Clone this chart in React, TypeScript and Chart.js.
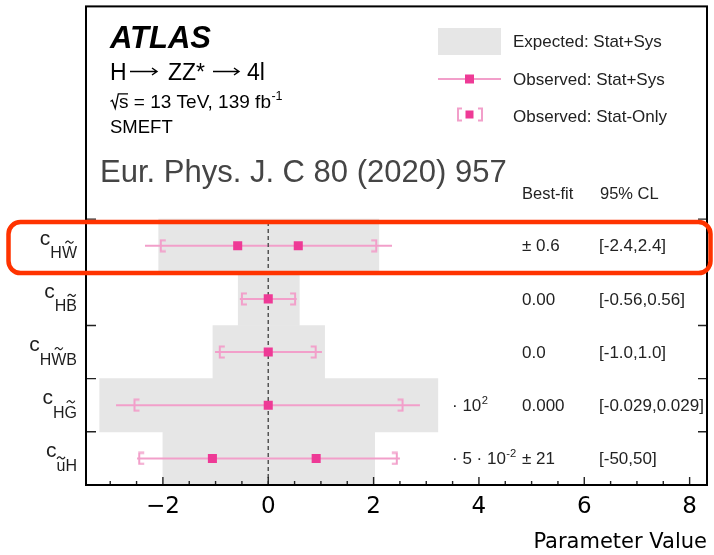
import React, { useEffect, useRef } from 'react';
import { Chart, registerables } from 'chart.js';

Chart.register(...registerables);

const FONT = '"Liberation Sans", Arial, Helvetica, sans-serif';
const AXIS_FONT = '"DejaVu Sans", sans-serif';

// ---- data ----
const rowNames = ['HW', 'HB', 'HWB', 'HG', 'uH'];
const tildeIndex = [1, 1, 1, 1, 0];
const rowCenters = [4.5, 3.5, 2.5, 1.5, 0.5];
const rowBoundaries = [1, 2, 3, 4, 5];
const expectedLow = [-2.08, -0.57, -1.05, -3.2, -2.0];
const expectedHigh = [2.1, 0.59, 1.07, 3.22, 2.02];
const statSysLow = [-2.34, -0.54, -1.01, -2.89, -2.49];
const statSysHigh = [2.35, 0.54, 1.02, 2.88, 2.5];
const statOnlyLow = [-2.04, -0.5, -0.92, -2.54, -2.45];
const statOnlyHigh = [2.05, 0.51, 0.9, 2.55, 2.44];
const bestFitPoints = [[-0.58, 0.57], [0], [0], [0], [-1.06, 0.91]];
const bestFitText = ['± 0.6', '0.00', '0.0', '0.000', '± 21'];
const scaleFactorText: [string, boolean][][] = [
  [],
  [],
  [],
  [['· 10', false], ['2', true]],
  [['· 5 · 10', false], ['-2', true]],
];
const clText = ['[-2.4,2.4]', '[-0.56,0.56]', '[-1.0,1.0]', '[-0.029,0.029]', '[-50,50]'];
const xTicks = [-2, 0, 2, 4, 6, 8];
const xMin = -3.46;
const xMax = 8.33;
const yMin = 0;
const yMax = 9;

const BAND = '#e6e6e6';
const LINE = '#f29fca';
const POINT = '#ee3a96';
const TEXT = '#1e1e1e';

function makeBracket(side: 'left' | 'right') {
  const c = document.createElement('canvas');
  c.width = 14;
  c.height = 14;
  const g = c.getContext('2d')!;
  g.strokeStyle = LINE;
  g.lineWidth = 2;
  g.beginPath();
  if (side === 'left') {
    g.moveTo(12, 1.5);
    g.lineTo(7, 1.5);
    g.lineTo(7, 12.5);
    g.lineTo(12, 12.5);
  } else {
    g.moveTo(2, 1.5);
    g.lineTo(7, 1.5);
    g.lineTo(7, 12.5);
    g.lineTo(2, 12.5);
  }
  g.stroke();
  return c;
}

function drawRich(ctx: CanvasRenderingContext2D, x: number, y: number, segs: [string, boolean][], size: number) {
  let cx = x;
  for (const [t, sup] of segs) {
    const s = sup ? size * 0.66 : size;
    ctx.font = `${s}px ${FONT}`;
    ctx.fillText(t, cx, sup ? y - size * 0.42 : y);
    cx += ctx.measureText(t).width + (sup ? 0 : 0.5);
  }
}

function drawTilde(ctx: CanvasRenderingContext2D, x: number, y: number) {
  ctx.save();
  ctx.strokeStyle = TEXT;
  ctx.lineWidth = 1.2;
  ctx.beginPath();
  ctx.moveTo(x - 4, y + 1);
  ctx.quadraticCurveTo(x - 2, y - 2.5, x, y);
  ctx.quadraticCurveTo(x + 2, y + 2.5, x + 4, y - 1);
  ctx.stroke();
  ctx.restore();
}

function drawArrow(ctx: CanvasRenderingContext2D, x1: number, x2: number, y: number) {
  ctx.save();
  ctx.strokeStyle = '#000';
  ctx.lineWidth = 1.4;
  ctx.beginPath();
  ctx.moveTo(x1, y);
  ctx.lineTo(x2, y);
  ctx.moveTo(x2 - 5, y - 3.5);
  ctx.lineTo(x2, y);
  ctx.lineTo(x2 - 5, y + 3.5);
  ctx.stroke();
  ctx.restore();
}

function drawBracketLines(ctx: CanvasRenderingContext2D, x: number, y: number, side: 'left' | 'right') {
  const d = side === 'left' ? 4 : -4;
  ctx.beginPath();
  ctx.moveTo(x + d, y - 6);
  ctx.lineTo(x, y - 6);
  ctx.lineTo(x, y + 6);
  ctx.lineTo(x + d, y + 6);
  ctx.stroke();
}

const decorPlugin = {
  id: 'decor',
  afterDraw(chart: any) {
    const ctx: CanvasRenderingContext2D = chart.ctx;
    const xs = chart.scales.x;
    const ys = chart.scales.y;
    const { left, right, top, bottom } = chart.chartArea;
    ctx.save();

    // x ticks (inside)
    ctx.strokeStyle = '#222';
    ctx.lineWidth = 1.4;
    for (let k = Math.ceil(xMin * 2); k <= Math.floor(xMax * 2); k++) {
      const px = xs.getPixelForValue(k / 2);
      const len = k % 4 === 0 ? 8 : 4;
      ctx.beginPath();
      ctx.moveTo(px, bottom);
      ctx.lineTo(px, bottom - len);
      ctx.stroke();
    }
    // y ticks on both sides
    for (const b of rowBoundaries) {
      const py = ys.getPixelForValue(b);
      ctx.beginPath();
      ctx.moveTo(left, py);
      ctx.lineTo(left + 10, py);
      ctx.moveTo(right, py);
      ctx.lineTo(right - 9, py);
      ctx.stroke();
    }
    // frame
    ctx.strokeStyle = '#000';
    ctx.lineWidth = 2;
    ctx.strokeRect(left, top, right - left, bottom - top);

    ctx.textBaseline = 'alphabetic';
    ctx.textAlign = 'left';
    ctx.fillStyle = TEXT;

    // row labels
    rowNames.forEach((name, i) => {
      const cy = ys.getPixelForValue(rowCenters[i]);
      ctx.fillStyle = TEXT;
      ctx.font = `21px ${FONT}`;
      const cw = ctx.measureText('c').width;
      ctx.font = `16px ${FONT}`;
      const sw = ctx.measureText(name).width;
      const x0 = 77 - cw - sw;
      ctx.font = `21px ${FONT}`;
      ctx.fillText('c', x0, cy - 1);
      ctx.font = `16px ${FONT}`;
      ctx.fillText(name, x0 + cw, cy + 12.5);
      const ti = tildeIndex[i];
      const pre = ctx.measureText(name.slice(0, ti)).width;
      const lw = ctx.measureText(name[ti]).width;
      const lower = name[ti] === name[ti].toLowerCase();
      drawTilde(ctx, x0 + cw + pre + lw / 2, cy + 12.5 - (lower ? 8.5 : 11.5) - 4.5);

      // right annotations
      const by = cy + 5.7;
      ctx.fillStyle = '#222';
      drawRich(ctx, 452, by, scaleFactorText[i], 17);
      ctx.font = `17px ${FONT}`;
      ctx.fillText(bestFitText[i], 522, by);
      ctx.fillText(clText[i], 599, by);
    });

    // column headers
    ctx.fillStyle = '#222';
    ctx.font = `16.5px ${FONT}`;
    ctx.fillText('Best-fit', 522, 199);
    ctx.fillText('95% CL', 600, 199);

    // top-left text
    ctx.fillStyle = '#000';
    ctx.font = `italic bold 31px ${FONT}`;
    ctx.fillText('ATLAS', 110, 48);
    ctx.font = `23px ${FONT}`;
    ctx.fillText('H', 110, 80);
    drawArrow(ctx, 130, 157, 71.5);
    ctx.fillText('ZZ*', 168, 80);
    drawArrow(ctx, 213, 239, 71.5);
    ctx.fillText('4l', 247, 80);

    // sqrt(s)
    ctx.save();
    ctx.strokeStyle = '#000';
    ctx.lineWidth = 1.3;
    ctx.beginPath();
    ctx.moveTo(110.5, 101.5);
    ctx.lineTo(112.3, 100.3);
    ctx.lineTo(115.2, 108.3);
    ctx.lineTo(118.3, 93.8);
    ctx.lineTo(128, 93.8);
    ctx.stroke();
    ctx.restore();
    drawRich(ctx, 119, 108, [['s = 13 TeV, 139 fb', false], ['-1', true]], 19);
    ctx.font = `18.5px ${FONT}`;
    ctx.fillText('SMEFT', 110, 133);

    ctx.fillStyle = '#454545';
    ctx.font = `31px ${FONT}`;
    ctx.fillText('Eur. Phys. J. C 80 (2020) 957', 100, 182);

    // legend
    ctx.fillStyle = BAND;
    ctx.fillRect(438, 28, 63, 27);
    ctx.fillStyle = '#222';
    ctx.font = `17px ${FONT}`;
    ctx.fillText('Expected: Stat+Sys', 513, 46.5);
    ctx.fillText('Observed: Stat+Sys', 513, 84.5);
    ctx.fillText('Observed: Stat-Only', 513, 121.5);
    ctx.strokeStyle = LINE;
    ctx.lineWidth = 2;
    ctx.beginPath();
    ctx.moveTo(438, 79);
    ctx.lineTo(501, 79);
    ctx.stroke();
    ctx.fillStyle = POINT;
    ctx.fillRect(465, 74.5, 9, 9);
    drawBracketLines(ctx, 458, 114.5, 'left');
    drawBracketLines(ctx, 482, 114.5, 'right');
    ctx.fillStyle = POINT;
    ctx.fillRect(465.5, 110.5, 8, 8);

    // red highlight box
    const rTop = ys.getPixelForValue(5) + 3;
    const rBot = ys.getPixelForValue(4) + 0.8;
    const rl = 8.5, rr = 710.5, rad = 12;
    ctx.strokeStyle = '#ff3300';
    ctx.lineWidth = 4.5;
    ctx.beginPath();
    ctx.moveTo(rl + rad, rTop);
    ctx.lineTo(rr - rad, rTop);
    ctx.arcTo(rr, rTop, rr, rTop + rad, rad);
    ctx.lineTo(rr, rBot - rad);
    ctx.arcTo(rr, rBot, rr - rad, rBot, rad);
    ctx.lineTo(rl + rad, rBot);
    ctx.arcTo(rl, rBot, rl, rBot - rad, rad);
    ctx.lineTo(rl, rTop + rad);
    ctx.arcTo(rl, rTop, rl + rad, rTop, rad);
    ctx.closePath();
    ctx.stroke();

    ctx.restore();
  },
};

export default function App() {
  const ref = useRef<HTMLCanvasElement>(null);

  useEffect(() => {
    document.body.style.margin = '0';
    const canvas = ref.current!;
    const leftBracket = makeBracket('left');
    const rightBracket = makeBracket('right');

    const pointData: { x: number; y: number }[] = [];
    bestFitPoints.forEach((vals, i) => vals.forEach((v) => pointData.push({ x: v, y: rowCenters[i] })));

    const statSysSets = rowCenters.map((y, i) => ({
      type: 'line' as const,
      label: 'statSys' + i,
      data: [
        { x: statSysLow[i], y },
        { x: statSysHigh[i], y },
      ],
      borderColor: LINE,
      borderWidth: 2,
      pointRadius: 0,
      showLine: true,
      order: 3,
    }));

    const chart = new Chart(canvas, {
      type: 'scatter',
      data: {
        datasets: [
          {
            type: 'scatter',
            label: 'observed',
            data: pointData,
            pointStyle: 'rect',
            pointRadius: 6.4,
            backgroundColor: POINT,
            borderWidth: 0,
            order: 0,
          } as any,
          {
            type: 'scatter',
            label: 'statOnlyLow',
            data: rowCenters.map((y, i) => ({ x: statOnlyLow[i], y })),
            pointStyle: leftBracket,
            pointRadius: 5,
            order: 1,
          },
          {
            type: 'scatter',
            label: 'statOnlyHigh',
            data: rowCenters.map((y, i) => ({ x: statOnlyHigh[i], y })),
            pointStyle: rightBracket,
            pointRadius: 5,
            order: 1,
          },
          {
            type: 'line',
            label: 'zero',
            data: [
              { x: 0, y: yMin },
              { x: 0, y: rowBoundaries[rowBoundaries.length - 1] },
            ],
            borderColor: '#555',
            borderWidth: 1.5,
            borderDash: [4, 3],
            pointRadius: 0,
            showLine: true,
            order: 2,
          },
          ...statSysSets,
          {
            type: 'bar',
            label: 'expected',
            data: rowCenters.map((y, i) => ({ x: [expectedLow[i], expectedHigh[i]], y })),
            indexAxis: 'y',
            backgroundColor: BAND,
            borderWidth: 0,
            barPercentage: 1,
            categoryPercentage: 1,
            order: 5,
          } as any,
        ],
      },
      options: {
        animation: false,
        responsive: false,
        maintainAspectRatio: false,
        events: [],
        layout: { padding: { left: 86, right: 7, top: 6, bottom: 0 } },
        plugins: {
          legend: { display: false },
          tooltip: { enabled: false },
        },
        scales: {
          x: {
            type: 'linear',
            position: 'bottom',
            min: xMin,
            max: xMax,
            offset: false,
            grid: { display: false, drawTicks: false, offset: false },
            border: { display: false },
            ticks: {
              autoSkip: false,
              maxRotation: 0,
              padding: 8,
              color: '#000',
              font: { family: AXIS_FONT, size: 23 },
              callback: (v: any) => String(v).replace('-', '\u2212'),
            },
            afterBuildTicks: (s: any) => {
              s.ticks = xTicks.map((v) => ({ value: v }));
            },
            afterFit: (s: any) => {
              s.height = 70;
            },
            title: {
              display: true,
              text: 'Parameter Value',
              align: 'end',
              color: '#000',
              font: { family: AXIS_FONT, size: 21 },
              padding: { top: 0, bottom: 0 },
            },
          },
          y: {
            type: 'linear',
            min: yMin,
            max: yMax,
            offset: false,
            display: false,
            grid: { offset: false },
            ticks: { stepSize: 1 },
          },
        },
      },
      plugins: [decorPlugin],
    });
    return () => chart.destroy();
  }, []);

  return <canvas ref={ref} width={714} height={555} style={{ display: 'block' }} />;
}
